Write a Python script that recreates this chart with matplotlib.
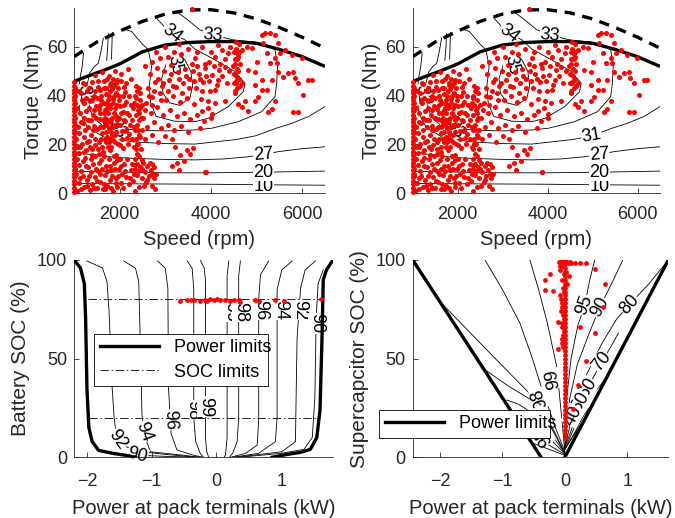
import matplotlib
matplotlib.use("Agg")
import matplotlib.pyplot as plt
import numpy as np

plt.rcParams["font.family"] = ["Liberation Sans", "DejaVu Sans"]
plt.rcParams["font.size"] = 13
plt.rcParams["lines.scale_dashes"] = False
INK = "#262626"

# ---------------- motor map (top panels) ----------------
speed_cont = [1000, 1300, 1600, 2000, 2500, 3000, 3500, 4000, 4500, 5000, 5500, 6000, 6500]
torque_cont = [45.8, 48, 50, 53, 58, 60.8, 61.8, 62.2, 62.2, 61.5, 59, 56, 52]
speed_peak = [1000, 1500, 2000, 2500, 3000, 3500, 4000, 4500, 5000, 5500, 6000, 6500]
torque_peak = [56, 62, 66.5, 70.5, 73.5, 75.2, 75.3, 74, 71.5, 68, 64, 59.5]

eff10 = [(1000, 3.9), (2000, 3.8), (3000, 3.7), (4000, 3.6), (5000, 3.4), (6500, 3.2)]
eff20 = [(1000, 8.9), (2000, 8.6), (3000, 8.3), (4000, 8.3), (5000, 8.5), (6500, 9.0)]
eff27 = [(1000, 17.0), (1300, 16.0), (1700, 15.0), (2200, 14.3), (3000, 13.8), (3650, 13.6),
         (4300, 14.0), (4820, 14.9), (5150, 15.8), (5480, 17.0), (6000, 18.2), (6500, 19.0)]
eff31 = [(1210, 57.5), (1180, 52), (1130, 47), (1100, 40), (1130, 33), (1300, 27), (1650, 23),
         (2300, 21), (3000, 20.3), (3650, 20.1), (4570, 22.0), (4980, 23.5), (5430, 26.6),
         (5770, 28.6), (6150, 31.5), (6500, 35.5)]
eff33 = [(3250, 74.5), (3500, 71), (3761, 67), (4048, 64.9), (4490, 62.9), (4966, 62), (5200, 61),
         (5404, 58.8), (5460, 52), (5441, 45.1), (5404, 39.6), (5112, 33.4), (4600, 29.3),
         (4016, 26.6), (3651, 25.9), (3000, 25.5), (2400, 25.8), (1950, 26.6), (1643, 27.5),
         (1450, 30.5), (1351, 34.1), (1278, 43.7), (1350, 49.5), (1450, 52), (1533, 53.3),
         (1590, 58), (1643, 63.6)]
eff34 = [(2800, 72), (2970, 68.5), (3140, 65.6), (3432, 62.9), (3651, 59.1), (4089, 54.7),
         (4527, 49.9), (4746, 45.1), (4710, 41.6), (4382, 35.5), (3943, 30.7), (3651, 29.3),
         (3200, 29.5), (2800, 31.5), (2680, 37), (2650, 44), (2700, 52), (2628, 58.8),
         (2483, 61.5), (2264, 66.3), (2117, 67.3)]
eff35 = [(3213, 56.5), (3420, 55), (3560, 50), (3600, 44), (3540, 39), (3320, 36), (3100, 37),
         (2950, 41), (2920, 47), (3020, 53), (3213, 56.5)]
eff_tip1 = [(1752, 65.5), (1740, 60), (1716, 54.5)]
eff_tip2 = [(1840, 66), (1830, 60), (1822, 55)]
motor_lines = [eff10, eff20, eff27, eff31, eff33, eff34, eff35, eff_tip1, eff_tip2]

motor_labels = [("10", 5150, 2.8, 0), ("20", 5150, 8.6, 0), ("27", 5150, 15.8, 5),
                ("31", 1210, 40.5, -85), ("33", 1950, 26.6, -60), ("35", 3213, 52.6, -78),
                ("34", 3140, 65.6, -38), ("33", 4048, 64.9, -5)]
motor_labels_right = [("31", 4981, 23.3, 10)]

edge_torque = [0.5, 2, 3.5, 5, 6.5, 8, 9.5, 11, 12.5, 14, 15.5, 17, 18.5, 20, 21.5, 23, 24.5,
               26, 27.5, 29, 30.5, 32, 33.5, 35, 36.5, 38, 39.5, 41, 42.5, 44, 45.5,
               1.2, 4, 7, 10, 13.5, 16, 19, 25, 28, 31, 34, 37, 40, 43]
edge_speed = [1000] * 31 + [1025] * 14

ops_low = [(1060, 1.0), (1100, 4.0), (1150, 1.5), (1190, 7.0), (1230, 2.5), (1280, 5.5), (1310, 10.5),
           (1350, 1.2), (1390, 3.5), (1420, 12.0), (1460, 6.5), (1500, 2.0), (1530, 9.0), (1570, 4.5),
           (1600, 13.5), (1640, 1.5), (1680, 7.5), (1700, 11.0), (1730, 3.0), (1760, 14.0), (1790, 5.5),
           (1820, 9.5), (1850, 1.0), (1880, 12.5), (1910, 6.0), (1950, 2.5), (1980, 10.0), (2020, 4.0),
           (2060, 8.0), (2100, 12.0), (2150, 6.5), (2200, 3.5), (2260, 9.5), (2300, 5.0), (2340, 11.5),
           (2380, 7.5), (2420, 2.5), (2450, 10.5), (2480, 6.0), (2520, 12.5), (2550, 8.5), (2580, 4.5),
           (2610, 11.0), (2640, 7.0), (2680, 9.5), (2700, 3.0), (2720, 12.0), (2750, 6.0), (2770, 1.5),
           (2790, 8.0), (1250, 14.5), (1380, 8.5), (1550, 12.5), (1660, 3.5), (1940, 13.5), (2480, 13.5),
           (2600, 5.5), (2330, 1.0), (1120, 11.5), (1480, 10.0), (3250, 12.5), (3320, 15.5), (3400, 13.0),
           (3480, 17.5), (3550, 16.0), (3600, 18.5), (3210, 19.0), (3150, 11.0), (3884, 8.5), (3300, 9.5),
           (1040, 8), (1070, 14), (1090, 19), (1130, 6), (1160, 9), (1200, 13), (1220, 17), (1260, 11),
           (1290, 3), (1330, 7), (1370, 14), (1400, 18), (1440, 2), (1470, 15), (1510, 5), (1540, 16),
           (1580, 8), (1620, 10), (1650, 15), (1690, 1.5), (1720, 9), (1780, 11), (1810, 2), (1840, 7),
           (1870, 15), (1900, 10), (1930, 4), (1970, 7), (2000, 14), (2040, 11), (2080, 2), (2120, 9),
           (2170, 14), (2230, 6), (2270, 12), (2500, 10), (2530, 3), (2660, 12.5), (2710, 8), (2760, 10.5)]
ops_band = [(2330, 14), (2380, 16), (2350, 18), (2410, 20), (2360, 22), (2420, 24), (2340, 26),
            (2390, 28), (2430, 30), (2350, 32), (2400, 34), (2370, 36), (2440, 38), (2330, 40),
            (2390, 42), (2360, 44), (2420, 15), (2310, 19), (2450, 23), (2320, 27), (2460, 31),
            (2300, 35), (2450, 41), (2380, 12), (2400, 9), (2310, 8), (2340, 10), (2370, 20),
            (2400, 26), (2420, 33), (2440, 35), (2310, 37), (2350, 39), (2420, 43), (2470, 18),
            (2480, 26), (2490, 36)]
ops_blob = [(1120, 16.5), (1260, 17.5), (1390, 15.8), (1530, 18.2), (1640, 16.9), (1780, 17.8),
            (1930, 15.5), (2080, 18.5), (1170, 20.2), (1320, 21.5), (1460, 19.6), (1590, 22.1),
            (1700, 20.8), (1850, 21.9), (2010, 19.9), (2160, 22.6), (1110, 24.5), (1240, 25.8),
            (1380, 23.9), (1510, 26.2), (1620, 24.8), (1760, 26.5), (1890, 23.7), (2050, 25.4),
            (2200, 24.1), (1190, 28.6), (1300, 29.9), (1430, 27.7), (1560, 30.3), (1680, 28.9),
            (1810, 30.6), (1960, 27.9), (2120, 29.5), (1140, 32.7), (1270, 33.8), (1410, 31.9),
            (1540, 34.4), (1650, 32.8), (1790, 34.9), (1920, 31.6), (2070, 33.3), (2210, 32.2),
            (1210, 36.8), (1350, 37.9), (1480, 35.6), (1600, 38.4), (1730, 36.6), (1860, 38.8),
            (2000, 35.9), (2150, 37.4), (1160, 40.9), (1290, 41.8), (1440, 39.7), (1570, 42.3),
            (1700, 40.5), (1830, 42.6), (1980, 39.9), (2110, 41.4), (1240, 44.6), (1390, 45.5),
            (1520, 43.7), (1660, 46.1), (1800, 44.4), (1950, 46.4), (2090, 43.6), (1450, 48.5),
            (1610, 49.6), (1760, 48.0), (1900, 50.3), (2040, 49.0), (2180, 51.0), (1700, 25),
            (1750, 30), (1820, 27), (1880, 33), (1720, 35), (1790, 22), (1850, 37), (1680, 31),
            (1900, 28), (1760, 40), (1830, 24), (1740, 19), (1870, 44), (1950, 36), (1640, 27),
            (1580, 36), (1920, 41), (1810, 45), (1990, 31), (1700, 43),
            (1050, 22), (1080, 27), (1070, 35), (1090, 42), (1140, 19), (1150, 29), (1180, 38),
            (1200, 45), (1220, 23), (1230, 31), (1260, 39), (1280, 21), (1310, 27), (1330, 35),
            (1340, 43), (1360, 19), (1370, 30), (1400, 38), (1420, 26), (1430, 34), (1460, 42),
            (1470, 22), (1490, 31), (1500, 39), (1520, 46), (1550, 21), (1560, 27), (1580, 33),
            (1590, 40), (1620, 19), (1630, 30), (1650, 37), (1660, 43), (1670, 22), (1690, 34),
            (1710, 28), (1720, 47), (1730, 23), (1740, 38), (1750, 33), (1770, 21), (1780, 29),
            (1790, 42), (1800, 36), (1810, 25), (1820, 19), (1840, 31), (1850, 47), (1860, 27),
            (1870, 40), (1890, 21), (1900, 35), (1910, 45), (1930, 25), (1940, 30), (1960, 43),
            (1970, 20), (1990, 38), (2010, 28), (2020, 46), (2030, 33), (2060, 22), (2070, 40),
            (2090, 30), (2100, 36), (2130, 26), (2140, 45), (2170, 33), (2190, 20), (2200, 40),
            (2230, 28), (2240, 36), (2260, 47), (2270, 22), (2280, 30)]
ops_mid = [(2550, 22), (2700, 24), (2850, 21), (3000, 23.5), (3150, 22), (2600, 27), (2750, 29),
           (2900, 26.5), (3050, 28), (3200, 26), (3350, 27.5), (3500, 25), (2520, 31), (2680, 33),
           (2820, 35.5), (2950, 32), (3100, 34), (3250, 31.5), (3400, 33), (3550, 30.5), (3700, 32),
           (3850, 29.5), (4000, 31), (2580, 37), (2720, 39.5), (2880, 41), (3020, 38), (3180, 40),
           (3330, 37.5), (3480, 39), (3630, 36.5), (3780, 38.5), (3930, 35), (4080, 37), (2620, 43),
           (2780, 45.5), (2930, 44), (3080, 46.5), (3230, 43.5), (3380, 45), (3530, 47), (3680, 43),
           (3830, 45.5), (3980, 42), (4130, 44.5), (2660, 49), (2820, 51.5), (2980, 50), (3130, 52.5),
           (3280, 49.5), (3430, 51), (3580, 53), (3730, 49), (3880, 51.5), (4030, 48.5), (4180, 50.5),
           (2700, 54), (2880, 55.5), (3050, 56), (3350, 57), (3650, 55.5), (3950, 54), (2550, 52),
           (3200, 58), (3500, 59), (3577, 75.5),
           (2560, 34), (2640, 40), (2700, 36), (2760, 42), (2840, 47), (2900, 38), (2960, 45),
           (3060, 42), (3120, 49), (3170, 44), (3300, 47), (3360, 41), (3450, 48), (3510, 43),
           (3600, 50), (3640, 46), (3700, 52), (3760, 47), (3800, 42), (3860, 53), (3900, 48),
           (3960, 46), (4060, 52), (4100, 56), (4200, 53), (4250, 48), (4300, 55), (4350, 45),
           (4400, 50), (4420, 60), (3000, 60), (2800, 58), (3300, 61), (3700, 58), (3800, 60), (4000, 58)]
ops_high = [(4520, 41), (4580, 43), (4540, 45), (4610, 47), (4500, 49), (4570, 51), (4630, 53),
            (4530, 55), (4590, 57), (4550, 59), (4610, 61), (4480, 52), (4640, 44), (4560, 48),
            (4510, 58), (4600, 56), (4162, 60.8), (4235, 58.8), (4381, 57.4), (4673, 58.8),
            (4783, 60.1), (4892, 59.4), (5002, 53.9), (4966, 49.9), (4819, 50.6), (4673, 45.1),
            (4966, 44.5), (5112, 46.4), (4308, 51.9), (4162, 46.4), (4089, 42.3), (3943, 37.9),
            (4308, 37.9), (3797, 33.8), (4016, 32.4), (3761, 26.9), (3870, 8.8), (4966, 37.9),
            (5039, 39.3), (4746, 37.9), (4600, 36.5), (4819, 33.8), (4673, 35.2),
            (4530, 42), (4560, 46), (4600, 50), (4520, 53), (4580, 55), (4620, 58), (4540, 62), (4500, 45)]
ops_arc = [(5185, 65.6), (5294, 65.6), (5404, 65), (5476, 61.5), (5513, 57.4), (5404, 55.3),
           (5440, 53.3), (5477, 49.9), (5586, 47.8), (5695, 49.2), (5805, 49.9), (5842, 47.1),
           (5915, 45.1), (5112, 65), (5150, 61.5), (5221, 57.4), (5294, 53.3), (5330, 46.4),
           (5221, 42.5), (5112, 42.5), (5404, 37.9), (5330, 34.5), (5258, 33.1), (5805, 33.1),
           (5915, 33.1), (6024, 40.3), (6134, 46.4), (6207, 46.4), (5988, 55.3), (5623, 58.8),
           (5768, 56.7)]
motor_ops = np.array(ops_low + ops_band + ops_blob + ops_mid + ops_high + ops_arc)

# ---------------- battery map (bottom left) ----------------
bat_lim_left_p = [-2.2, -2.1, -2.04, -2.02, -2.0, -1.97, -1.92, -1.82, -1.6, -1.4, -1.25]
bat_lim_left_soc = [100, 96, 88, 70, 35, 15, 8, 3.5, 2, 1, 0]
bat_lim_right_p = [1.8, 1.7, 1.65, 1.63, 1.6, 1.55, 1.45, 1.3, 1.1, 0.86]
bat_lim_right_soc = [100, 95, 90, 60, 24, 10, 4, 2.5, 1.5, 0]
soc_limits = [80, 20]
soc_limit_p = [[-1.99, 1.63], [-1.97, 1.6]]

bat90_l = [(-1.55, 1.8), (-1.2, 1.0), (-0.8, 0.5), (-0.3, 0)]
bat92_l = [(-2.0, 99.5), (-1.76, 96), (-1.69, 89), (-1.66, 75), (-1.64, 60), (-1.61, 35), (-1.58, 20),
           (-1.55, 12), (-1.45, 6), (-1.2, 3), (-0.8, 1.5), (-0.3, 0)]
bat94_l = [(-1.43, 99.5), (-1.25, 95.8), (-1.2, 89), (-1.17, 51.8), (-1.15, 21.4), (-1.1, 10),
           (-1.02, 2.8), (-0.5, 1), (-0.25, 0)]
bat96_l = [(-0.91, 99.5), (-0.79, 95.8), (-0.75, 85.7), (-0.74, 35), (-0.7, 12), (-0.61, 3.7),
           (-0.35, 1), (-0.2, 0)]
bat98_l = [(-0.45, 99.5), (-0.375, 95.8), (-0.35, 85), (-0.35, 20), (-0.32, 7.9), (-0.25, 2), (-0.2, 0)]
bat99_l = [(-0.25, 100), (-0.19, 96), (-0.17, 90), (-0.17, 10), (-0.15, 3), (-0.12, 0)]
bat99_r = [(0.19, 99.5), (0.165, 92), (0.165, 10), (0.14, 1.2), (0.12, 0)]
bat98_r = [(0.37, 99.5), (0.344, 92), (0.344, 20), (0.32, 7.9), (0.25, 2), (0.2, 0)]
bat96_r = [(0.807, 99.5), (0.68, 92.4), (0.653, 80), (0.653, 20), (0.63, 6.2), (0.45, 2), (0.22, 0)]
bat94_r = [(1.17, 99.5), (1.01, 95), (0.937, 85), (0.937, 20), (0.91, 7.9), (0.65, 2), (0.25, 0)]
bat92_r = [(1.53, 99.5), (1.37, 95), (1.30, 85.7), (1.245, 60), (1.22, 7.9), (1.01, 2.8), (0.3, 0)]
bat90_r = [(1.65, 95), (1.57, 88), (1.54, 70), (1.52, 30), (1.48, 10), (1.35, 4), (1.0, 2), (0.35, 0)]
bat_lines = [bat90_l, bat92_l, bat94_l, bat96_l, bat98_l, bat99_l,
             bat99_r, bat98_r, bat96_r, bat94_r, bat92_r, bat90_r]
bat_labels = [("92", -1.53, 8.8, -55), ("90", -1.22, 0.8, -15), ("94", -1.12, 13, -70),
              ("96", -0.71, 19, -88), ("98", -0.375, 24, -90), ("99", -0.17, 25.6, -90),
              ("99", 0.22, 73.8, -90), ("98", 0.37, 73.8, -90), ("96", 0.68, 74.7, -90),
              ("94", 0.99, 74.7, -90), ("92", 1.29, 74.7, -90), ("90", 1.55, 67.9, -90)]
bat_ops_p = [-0.556, -0.453, -0.40, -0.35, -0.247, -0.17, -0.144, -0.093, -0.04, 0.01, 0.06,
             0.139, 0.216, 0.267, 0.344, 0.37, 0.60, 0.65, 0.91, 1.04, 1.62]
bat_ops_soc = [79.2, 79.8, 79.6, 79.7, 79.3, 79.9, 79.4, 80.2, 79.8, 80.4, 79.5,
               79.8, 79.4, 79.5, 79.8, 78.9, 79.9, 79.4, 79.8, 79.4, 80.2]

# ---------------- supercapacitor map (bottom right) ----------------
sc_lim_left_p = [-2.44, -0.38]
sc_lim_left_soc = [100, 0]
sc_lim_right_p = [0, 1.66]
sc_lim_right_soc = [0, 100]

sc_l1 = [(-1.96, 77.5), (-1.17, 51.8), (-0.43, 28), (-0.15, 12), (0, 2)]
sc_l2 = [(-1.31, 45), (-0.9, 36), (-0.43, 27), (-0.15, 11), (0, 2)]
sc_l3 = [(-0.93, 29), (-0.75, 27), (-0.5, 22), (-0.2, 11), (0, 2)]
sc_l4 = [(-0.78, 22), (-0.5, 16), (-0.2, 8), (0, 2)]
sc_l5 = [(-0.6, 13), (-0.3, 7), (0, 1.5)]
sc_l6 = [(-0.5, 7), (-0.25, 4), (0, 1)]
sc_u1 = [(-1.28, 100), (-1.0, 85), (-0.72, 68), (-0.52, 50), (-0.37, 35), (-0.15, 15), (0, 3)]
sc_u2 = [(-0.56, 100), (-0.42, 85), (-0.28, 68), (-0.13, 46), (-0.05, 20), (0, 3)]
sc_r95 = [(0.48, 100), (0.40, 90), (0.32, 77), (0.21, 67), (0.1, 50), (0.03, 30), (0, 5)]
sc_r90 = [(0.93, 100), (0.75, 88), (0.56, 76), (0.38, 62), (0.2, 47), (0.08, 30), (0, 5)]
sc_r80 = [(1.66, 100), (1.35, 88), (1.04, 77.5), (0.83, 70), (0.6, 58), (0.35, 42), (0.15, 25), (0, 5)]
sc_r70 = [(0.86, 63), (0.72, 55), (0.59, 48.5), (0.4, 37), (0.2, 22), (0, 5)]
sc_r60 = [(0.66, 40), (0.45, 32), (0.3, 24), (0.15, 15), (0, 4)]
sc_r50 = [(0.5, 30), (0.3, 21), (0.15, 12), (0, 4)]
sc_r40 = [(0.38, 23), (0.2, 14), (0, 4)]
sc_lines = [sc_l1, sc_l2, sc_l3, sc_l4, sc_l5, sc_l6, sc_u1, sc_u2,
            sc_r95, sc_r90, sc_r80, sc_r70, sc_r60, sc_r50, sc_r40]
sc_labels = [("95", 0.32, 77, 70), ("90", 0.56, 76, 62), ("80", 1.04, 77.5, 48), ("70", 0.59, 48.5, 52),
             ("60", 0.36, 35, 58), ("50", 0.25, 28, 60), ("40", 0.13, 21, 62),
             ("99", -0.19, 40, 100), ("98", -0.40, 30, 110), ("96", -0.42, 20, 115), ("95", -0.35, 11, 120)]

sc_col_soc = [10, 12, 14, 16, 18, 20, 22, 24, 26, 28, 30, 32, 34, 36, 38, 40, 42, 44, 46, 48, 50,
              52, 54, 56, 58, 60, 62, 64, 66, 68, 70, 72, 74, 76, 78, 80, 82, 84, 86, 88, 90, 92,
              94, 96, 98, 99]
sc_col_p = [0.0] * len(sc_col_soc)
sc_ops_p = [-0.03, -0.05, -0.02, -0.06, -0.04, -0.07, -0.03, -0.05, 0.02, -0.08, -0.04, -0.06,
            0.05, 0.1, 0.16, 0.24, 0.34, -0.32, -0.24, -0.32, -0.19, -0.11, -0.05, -0.11,
            0.48, 0.64, 0.61, 0.24, 0.48, 0.34, 0.21, 0.13, -0.1, -0.02,
            -0.03, -0.04, -0.02, -0.05, -0.03, -0.04, -0.06, -0.02, 0.03, 0.06, -0.08, -0.04, 0.02, 0.08]
sc_ops_soc = [62, 66, 70, 74, 78, 82, 86, 90, 94, 95, 97, 99, 98.5, 98.6, 98.6, 98.6, 98.6,
              89.9, 93, 85, 84.4, 68.7, 58, 55, 95.4, 87.8, 76.3, 65.9, 62.8, 49, 36.6, 24.6, 99, 93,
              56, 60, 64, 68, 72, 76, 80, 84, 88, 92, 97, 99.3, 99.5, 99.2]

# ---------------- drawing ----------------
fig = plt.figure(figsize=(6.75, 5.18), dpi=100)
ax_tl = fig.add_axes([0.1096, 0.6274, 0.3719, 0.3572])
ax_tr = fig.add_axes([0.6114, 0.6274, 0.3664, 0.3572])
ax_bl = fig.add_axes([0.1096, 0.1172, 0.3837, 0.3809])
ax_br = fig.add_axes([0.6114, 0.1172, 0.3787, 0.3809])


def style_axes(ax, xpad=9):
    for s in ["top", "right"]:
        ax.spines[s].set_visible(False)
    for s in ["left", "bottom"]:
        ax.spines[s].set_color(INK)
        ax.spines[s].set_linewidth(0.6)
    ax.tick_params(direction="in", length=3.5, width=0.6, colors=INK, labelsize=13)
    ax.tick_params(axis="x", pad=xpad)
    ax.tick_params(axis="y", pad=5)


def put_labels(ax, labels):
    for txt, x, y, rot in labels:
        ax.text(x, y, txt, rotation=rot, ha="center", va="center", fontsize=13,
                rotation_mode="anchor", zorder=2.5,
                bbox=dict(fc="white", ec="none", pad=0.3))


def draw_lines(ax, lines):
    for line in lines:
        xs, ys = zip(*line)
        ax.plot(xs, ys, color="k", lw=0.6, zorder=2)


for ax, extra in [(ax_tl, []), (ax_tr, motor_labels_right)]:
    draw_lines(ax, motor_lines)
    put_labels(ax, motor_labels + extra)
    ax.plot(speed_cont, torque_cont, color="k", lw=2.4, zorder=4, solid_capstyle="butt")
    ax.plot(speed_peak, torque_peak, color="k", lw=2.4, ls=(0, (7.5, 5.5)), zorder=4)
    ax.scatter(edge_speed, edge_torque, s=13, color="#ff0000", lw=0, zorder=5, clip_on=False)
    ax.scatter(motor_ops[:, 0], motor_ops[:, 1], s=13, color="#ff0000", lw=0, zorder=5, clip_on=False)
    ax.set_xlim(1000, 6500)
    ax.set_ylim(0, 76)
    ax.set_xticks([2000, 4000, 6000])
    ax.set_yticks([0, 20, 40, 60])
    ax.set_xlabel("Speed (rpm)", color=INK, fontsize=14.5, labelpad=5)
    ax.set_ylabel("Torque (Nm)", color=INK, fontsize=15, labelpad=3)
    style_axes(ax, xpad=9.5)

# battery
draw_lines(ax_bl, bat_lines)
put_labels(ax_bl, bat_labels)
pl, = ax_bl.plot(bat_lim_left_p, bat_lim_left_soc, color="k", lw=2.4, zorder=4)
ax_bl.plot(bat_lim_right_p, bat_lim_right_soc, color="k", lw=2.4, zorder=4)
for soc, (p0, p1) in zip(soc_limits, soc_limit_p):
    sl, = ax_bl.plot([p0, p1], [soc, soc], color="k", lw=0.6, ls=(0, (6, 2, 1, 2)), zorder=3)
ax_bl.scatter(bat_ops_p, bat_ops_soc, s=12, color="#ff0000", lw=0, zorder=5)
ax_bl.set_xlim(-2.2, 1.8)
ax_bl.set_ylim(0, 100)
ax_bl.set_xticks([-2, -1, 0, 1])
ax_bl.set_yticks([0, 50, 100])
ax_bl.set_xlabel("Power at pack terminals (kW)", color=INK, fontsize=14.5, labelpad=7)
ax_bl.set_ylabel("Battery SOC (%)", color=INK, fontsize=15, labelpad=5)
style_axes(ax_bl, xpad=11)
leg = ax_bl.legend([pl, sl], ["Power limits", "SOC limits"], loc="lower left",
                   bbox_to_anchor=(0.078, 0.361, 0.672, 0.271), mode="expand",
                   fancybox=False, framealpha=1, edgecolor="k", fontsize=13,
                   handlelength=3.3, borderaxespad=0, borderpad=0.3, labelspacing=0.4)
leg.get_frame().set_linewidth(0.6)
leg.set_zorder(10)

# supercapacitor
draw_lines(ax_br, sc_lines)
put_labels(ax_br, sc_labels)
pl2, = ax_br.plot(sc_lim_left_p, sc_lim_left_soc, color="k", lw=2.4, zorder=4)
ax_br.plot(sc_lim_right_p, sc_lim_right_soc, color="k", lw=2.4, zorder=4)
ax_br.scatter(sc_col_p, sc_col_soc, s=12, color="#ff0000", lw=0, zorder=5)
ax_br.scatter(sc_ops_p, sc_ops_soc, s=12, color="#ff0000", lw=0, zorder=5)
ax_br.set_xlim(-2.44, 1.66)
ax_br.set_ylim(0, 100)
ax_br.set_xticks([-2, -1, 0, 1])
ax_br.set_yticks([0, 50, 100])
ax_br.set_xlabel("Power at pack terminals (kW)", color=INK, fontsize=14.5, labelpad=7)
ax_br.set_ylabel("Supercapcitor SOC (%)", color=INK, fontsize=15, labelpad=5)
style_axes(ax_br, xpad=11)
leg2 = ax_br.legend([pl2], ["Power limits"], loc="lower left",
                    bbox_to_anchor=(-0.131, 0.099, 0.668, 0.149), mode="expand",
                    fancybox=False, framealpha=1, edgecolor="k", fontsize=13,
                    handlelength=3.3, borderaxespad=0, borderpad=0.3)
leg2.get_frame().set_linewidth(0.6)
leg2.set_zorder(10)

fig.savefig("out.png", dpi=100)
